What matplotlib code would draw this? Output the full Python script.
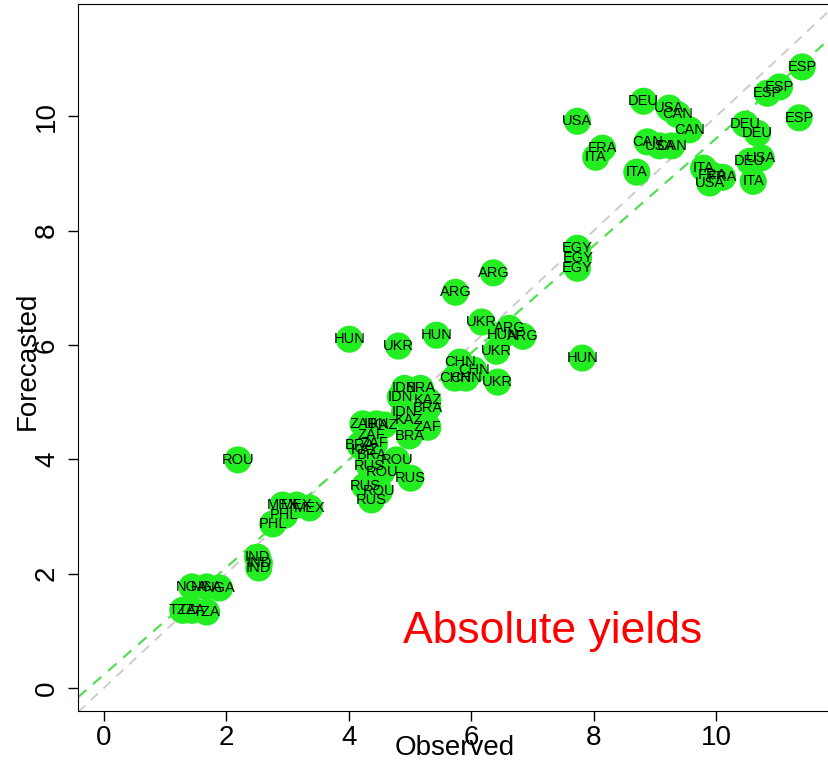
import numpy as np
import matplotlib
matplotlib.use('Agg')
import matplotlib.pyplot as plt

plt.rcParams['font.family'] = ['Liberation Sans', 'DejaVu Sans']

countries = ['ESP', 'ESP', 'ESP', 'ESP', 'DEU', 'USA', 'CAN', 'USA', 'CAN', 'DEU',
             'DEU', 'FRA', 'ITA', 'CAN', 'USA', 'CAN', 'ITA', 'ITA', 'FRA', 'FRA',
             'USA', 'DEU', 'USA', 'ITA', 'EGY', 'EGY', 'EGY', 'ARG', 'ARG', 'HUN',
             'UKR', 'HUN', 'UKR', 'ARG', 'HUN', 'ARG', 'UKR', 'HUN', 'CHN', 'CHN',
             'CHN', 'CHN', 'UKR', 'BRA', 'IDN', 'IDN', 'KAZ', 'IDN', 'BRA', 'KAZ',
             'ZAF', 'BRA', 'ZAF', 'IDN', 'KAZ', 'ZAF', 'BRA', 'ZAF', 'KAZ', 'BRA',
             'ROU', 'RUS', 'ROU', 'RUS', 'RUS', 'ROU', 'RUS', 'ROU', 'MEX', 'MEX',
             'MEX', 'PHL', 'PHL', 'IND', 'IND', 'IND', 'NGA', 'NGA', 'NGA', 'TZA',
             'TZA', 'TZA']

observed = [11.40, 11.03, 10.83, 11.35, 8.81, 9.23, 9.36, 7.73, 9.56, 10.47,
            10.67, 8.14, 8.03, 8.87, 9.07, 9.27, 8.70, 9.79, 9.93, 10.10,
            9.89, 10.54, 10.73, 10.60, 7.73, 7.75, 7.73, 6.36, 5.74, 4.01,
            4.81, 5.43, 6.17, 6.62, 6.51, 6.84, 6.41, 7.81, 5.81, 6.04,
            5.73, 5.91, 6.43, 5.17, 4.91, 4.84, 5.29, 4.91, 5.29, 4.99,
            5.29, 4.99, 4.23, 4.45, 4.58, 4.37, 4.18, 4.42, 4.27, 4.37,
            4.78, 4.34, 4.54, 5.01, 4.26, 4.50, 4.37, 2.19, 2.92, 3.15,
            3.36, 2.95, 2.76, 2.51, 2.54, 2.53, 1.44, 1.68, 1.89, 1.29,
            1.44, 1.68]

forecasted = [10.86, 10.51, 10.40, 9.97, 10.26, 10.14, 10.03, 9.91, 9.76, 9.86,
              9.70, 9.44, 9.28, 9.55, 9.48, 9.48, 9.02, 9.09, 8.97, 8.93,
              8.83, 9.21, 9.27, 8.86, 7.69, 7.52, 7.34, 7.26, 6.92, 6.10,
              5.98, 6.17, 6.40, 6.29, 6.17, 6.15, 5.89, 5.77, 5.70, 5.56,
              5.42, 5.42, 5.35, 5.24, 5.24, 5.09, 5.03, 4.83, 4.90, 4.69,
              4.56, 4.41, 4.62, 4.62, 4.60, 4.42, 4.25, 4.28, 4.16, 4.07,
              3.99, 3.88, 3.78, 3.67, 3.53, 3.44, 3.29, 3.99, 3.20, 3.20,
              3.15, 3.02, 2.87, 2.29, 2.19, 2.10, 1.77, 1.77, 1.75, 1.36,
              1.36, 1.33]

# Reta ajustada (verde)
fit_intercept = 0.234
fit_slope = 0.938

x_ticks = [0, 2, 4, 6, 8, 10]
y_ticks = [0, 2, 4, 6, 8, 10]

fig = plt.figure(figsize=(8.29, 7.66), dpi=100)
ax = fig.add_axes([78 / 829, 55 / 766, 761 / 829, 707 / 766])
ax.set_xlim(-0.42, 12.0)
ax.set_ylim(-0.40, 11.96)

xs = np.array(ax.get_xlim())
ax.plot(xs, xs, color='#cccccc', linestyle=(0, (5, 4)), linewidth=1.4, zorder=1)
ax.plot(xs, fit_intercept + fit_slope * xs, color='#55dd55',
        linestyle=(0, (5, 4)), linewidth=1.6, zorder=1)

ax.scatter(observed, forecasted, s=380, color='#22ee22', edgecolors='none', zorder=2)
for c, xo, yf in zip(countries, observed, forecasted):
    ax.text(xo, yf, c, fontsize=10.5, ha='center', va='center', color='black', zorder=3)

ax.set_xticks(x_ticks)
ax.set_yticks(y_ticks)
ax.tick_params(axis='both', labelsize=20, length=7, width=1, direction='out')
ax.tick_params(axis='y', labelrotation=90, pad=6)
for lab in ax.get_yticklabels():
    lab.set_verticalalignment('center')
ax.tick_params(axis='x', pad=3)

ax.text(-0.066, 0.496, 'Forecasted', transform=ax.transAxes, rotation=90,
        ha='center', va='center', fontsize=20)
ax.text(0.495, -0.053, 'Observed', transform=ax.transAxes,
        ha='center', va='center', fontsize=20)
ax.text(0.624, 0.112, 'Absolute yields', transform=ax.transAxes,
        ha='center', va='center', fontsize=32, color='red')

fig.savefig('out.png', dpi=100)
